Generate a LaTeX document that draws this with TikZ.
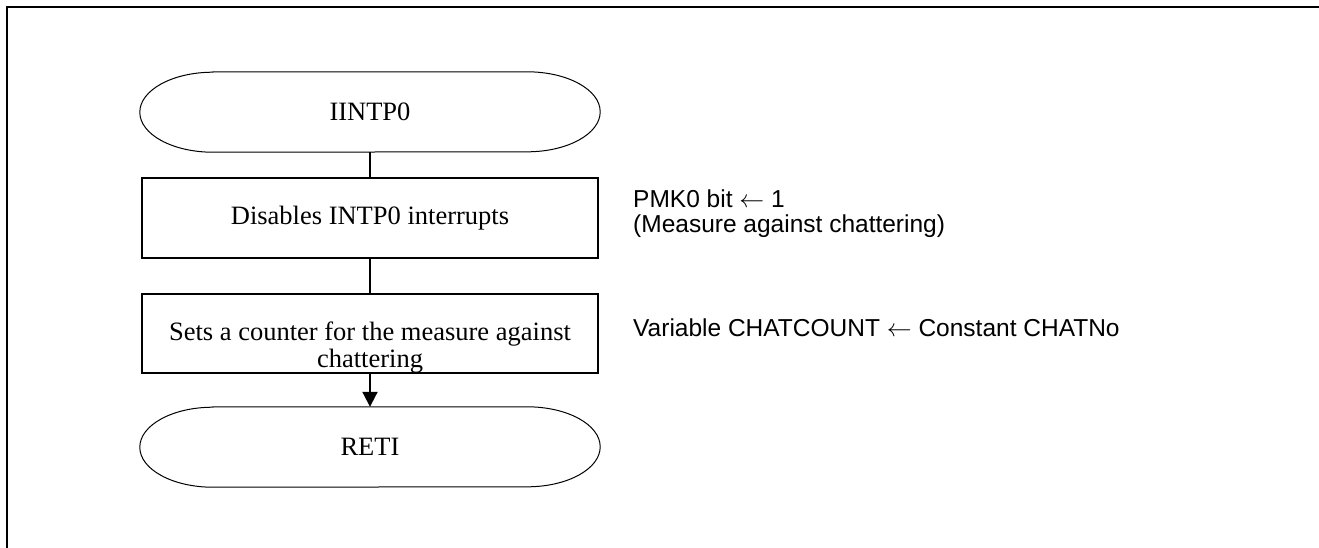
\documentclass[tikz,border=0pt]{standalone}
\usepackage{fontspec}
\setmainfont{Liberation Serif}
\newfontfamily\annfont{Liberation Sans}
\usetikzlibrary{arrows.meta}
\newcommand\larr{$\leftarrow$}
\begin{document}
\begin{tikzpicture}[x=1pt,y=-1pt,
  procbox/.style={draw, line width=1.8pt, minimum width=456pt, inner sep=0pt, font=\fontsize{26.5}{27}\selectfont, align=center},
  termbox/.style={minimum width=460pt, minimum height=80pt, inner sep=0pt, font=\fontsize{26.5}{27}\selectfont},
  termline/.style={line width=1pt},
  conn/.style={line width=2pt},
  note/.style={anchor=base west, inner sep=0pt, font=\annfont\fontsize{24.5}{25}\selectfont, align=left}
]
\useasboundingbox (0,0) rectangle (1319,547);
\draw[line width=2pt] (7,548) -- (7,7) -- (1320,7);

\node[termbox] (s) at (370,112) {IINTP0};
\draw[termline] ([xshift=73pt]s.north west) -- ([xshift=-73pt]s.north east)
  arc[start angle=90,end angle=-90,x radius=73pt,y radius=40pt]
  -- ([xshift=73pt]s.south west)
  arc[start angle=270,end angle=90,x radius=73pt,y radius=40pt] -- cycle;

\node[procbox, minimum height=80pt] (b1) at (370,218) {Disables INTP0 interrupts};
\node[procbox, minimum height=79pt] (b2) at (370,333.5) {};
\node[inner sep=0pt, font=\fontsize{26.5}{27}\selectfont, align=center] (b2t) at (370,348) {Sets a counter for the measure against\\chattering};

\node[termbox] (e) at (370,447) {RETI};
\draw[termline] ([xshift=73pt]e.north west) -- ([xshift=-73pt]e.north east)
  arc[start angle=90,end angle=-90,x radius=73pt,y radius=40pt]
  -- ([xshift=73pt]e.south west)
  arc[start angle=270,end angle=90,x radius=73pt,y radius=40pt] -- cycle;

\draw[conn] (s.south) -- (b1.north);
\draw[conn] (b1.south) -- (b2.north);
\draw[conn,-{Triangle[length=15pt,width=15pt]}] (b2.south) -- (e.north);

\node[note] (n1) at (633,232) {PMK0 bit \larr{} 1\\(Measure against chattering)};
\node[note] (n2) at (633,336) {Variable CHATCOUNT \larr{} Constant CHATNo};
\end{tikzpicture}
\end{document}
